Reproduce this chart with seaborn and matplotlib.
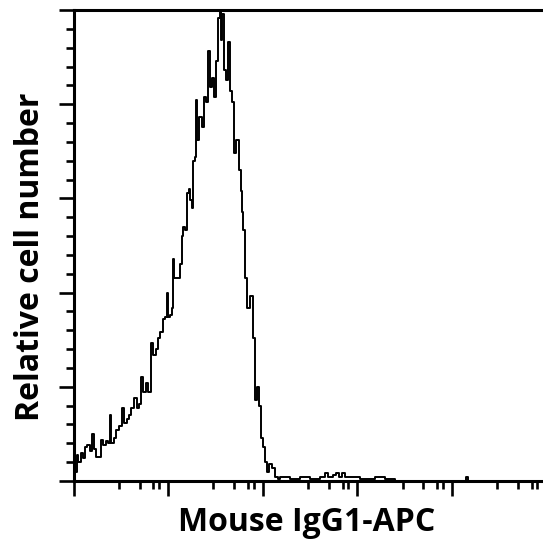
import matplotlib
matplotlib.use("Agg")
import matplotlib.pyplot as plt
import matplotlib.ticker as mticker
import numpy as np
import pandas as pd
import seaborn as sns

# Fluorescence intensity (start of each histogram channel) and cell counts
intensity = [1.00, 1.076, 1.129, 1.214, 1.275, 1.339, 1.405, 1.511, 1.587, 1.666,
             1.749, 1.975, 2.073, 2.230, 2.341, 2.458, 2.518, 2.708, 2.843, 3.058,
             3.289, 3.453, 3.715, 3.899, 4.094, 4.403, 4.737, 4.973, 5.221, 5.481,
             5.893, 6.188, 6.656, 6.988, 7.516, 7.890, 8.284, 8.910, 9.355, 9.82,
             10.06, 10.56, 11.09, 11.36, 11.64, 12.52, 13.47, 14.14, 14.49, 15.21,
             15.97, 16.77, 17.17, 18.03, 18.48, 19.40, 19.87, 20.36, 21.37, 22.99,
             24.14, 25.33, 26.60, 27.92, 29.31, 30.77, 32.30, 33.91, 35.61, 36.48,
             37.38, 39.24, 41.19, 43.25, 45.40, 47.66, 50.03, 52.52, 56.49, 59.31,
             60.76, 62.26, 65.36, 68.61, 73.81, 79.38, 83.33, 87.50, 91.85, 96.43,
             101.2, 106.3, 111.6, 117.1, 126.0, 135.5, 145.7, 153.0, 195.1, 248.8,
             317.1, 404.6, 456.7, 491.3, 554.8, 596.8, 642.0, 690.5, 742.6, 838.5,
             1069, 1539, 1963, 2502, 14050, 14755]
counts = [5, 14, 10, 15, 12, 18, 19, 16, 25, 17,
          13, 22, 19, 21, 20, 35, 20, 23, 27, 29,
          39, 31, 33, 35, 39, 44, 39, 41, 55, 47,
          52, 47, 73, 67, 70, 76, 79, 86, 87, 100,
          87, 88, 92, 118, 108, 108, 115, 130, 135, 133,
          153, 155, 149, 145, 170, 172, 202, 181, 193, 188,
          204, 201, 228, 209, 214, 204, 223, 246, 252, 234,
          248, 218, 213, 233, 207, 201, 174, 181, 165, 154,
          143, 133, 108, 92, 98, 76, 43, 50, 40, 23,
          18, 10, 5, 9, 7, 2, 1, 2, 1, 2,
          1, 2, 4, 2, 3, 4, 2, 4, 2, 2,
          1, 2, 1, 0, 2, 0]

x_major = [1, 10, 100, 1000, 10000, 100000]
x_minor_steps = [3, 5, 7, 8]
y_major = [0, 50, 100, 150, 200, 250]
x_label = "Mouse IgG1-APC"
y_label = "Relative cell number"

df = pd.DataFrame({"intensity": intensity, "count": counts})

sns.set_theme(style="white")
plt.rcParams["font.family"] = ["Open Sans", "DejaVu Sans"]

fig = plt.figure(figsize=(5.43, 5.56), dpi=100)
ax = fig.add_axes([73.5 / 543, (556 - 481) / 556, 1 - 73.5 / 543, (481 - 10) / 556])

sns.lineplot(data=df, x="intensity", y="count", ax=ax, estimator=None, sort=False,
             drawstyle="steps-post", color="black", linewidth=1.4)

ax.set_xscale("log")
ax.set_xlim(1, 10 ** 4.962)
ax.set_ylim(0, 250)

ax.xaxis.set_major_locator(mticker.FixedLocator(x_major))
ax.xaxis.set_minor_locator(mticker.LogLocator(base=10, subs=x_minor_steps))
ax.yaxis.set_major_locator(mticker.FixedLocator(y_major))
ax.yaxis.set_minor_locator(mticker.MultipleLocator(10))
ax.xaxis.set_major_formatter(mticker.NullFormatter())
ax.xaxis.set_minor_formatter(mticker.NullFormatter())
ax.yaxis.set_major_formatter(mticker.NullFormatter())

ax.tick_params(which="major", direction="out", length=11, width=1.9, color="black",
               bottom=True, left=True, top=False, right=False)
ax.tick_params(which="minor", direction="out", length=5.5, width=1.9, color="black",
               bottom=True, left=True, top=False, right=False)

for side in ["left", "bottom", "top"]:
    ax.spines[side].set_visible(True)
    ax.spines[side].set_color("black")
    ax.spines[side].set_linewidth(2.2)
ax.spines["right"].set_visible(False)

ax.set_xlabel(x_label, fontsize=23, fontweight="bold", color="black")
ax.set_ylabel(y_label, fontsize=23, fontweight="bold", color="black")
ax.xaxis.set_label_coords(0.497, -0.053)
ax.yaxis.set_label_coords(-0.056, 0.477)

fig.savefig("out.png", dpi=100, facecolor="white")
